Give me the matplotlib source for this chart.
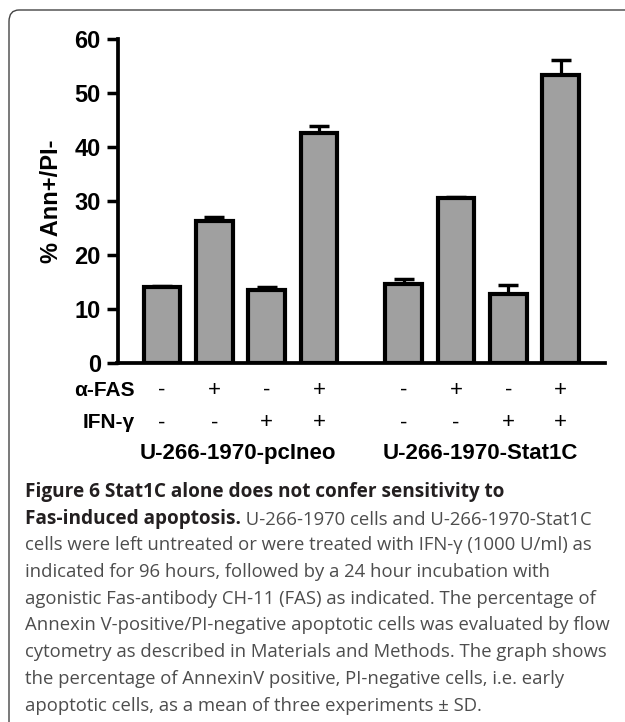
import matplotlib.pyplot as plt
import matplotlib.patches as mpatches
from matplotlib.text import Annotation
import numpy as np

# dados
grupos = ['U-266-1970-pcIneo', 'U-266-1970-Stat1C']
media_pcineo = [14.0, 26.3, 13.5, 42.6]
erro_pcineo = [0.2, 0.8, 0.5, 1.2]
media_stat1c = [14.7, 30.5, 12.7, 53.3]
erro_stat1c = [0.8, 0.3, 1.8, 2.8]
sinais_fas = ['-', '+', '-', '+']
sinais_ifn = ['-', '-', '+', '+']
ticks_y = [0, 10, 20, 30, 40, 50, 60]

titulo_legenda = ['Figure 6 Stat1C alone does not confer sensitivity to', 'Fas-induced apoptosis.']
texto_legenda = [' U-266-1970 cells and U-266-1970-Stat1C',
                 'cells were left untreated or were treated with IFN-\u03b3 (1000 U/ml) as',
                 'indicated for 96 hours, followed by a 24 hour incubation with',
                 'agonistic Fas-antibody CH-11 (FAS) as indicated. The percentage of',
                 'Annexin V-positive/PI-negative apoptotic cells was evaluated by flow',
                 'cytometry as described in Materials and Methods. The graph shows',
                 'the percentage of AnnexinV positive, PI-negative cells, i.e. early',
                 'apoptotic cells, as a mean of three experiments \u00b1 SD.']

fig = plt.figure(figsize=(6.25, 7.22), dpi=100)
W, H = 625, 722

# moldura com canto arredondado
moldura = mpatches.FancyBboxPatch((9 / W, -0.05), 1.2, 1.05 - 10 / H,
                                  boxstyle='round,pad=0,rounding_size=0.016',
                                  transform=fig.transFigure, fill=False,
                                  edgecolor='#444444', lw=1.0)
fig.patches.append(moldura)

ax = fig.add_axes([117.5 / W, (H - 363) / H, (605 - 117.5) / W, (363 - 39) / H])

pos1 = np.arange(4)
pos2 = np.arange(4) + 4.62
posicoes = np.concatenate([pos1, pos2])
medias = media_pcineo + media_stat1c
erros = erro_pcineo + erro_stat1c

ax.bar(posicoes, medias, width=0.7, color='#a0a0a0', edgecolor='black', linewidth=3, zorder=3)
ax.errorbar(posicoes, medias, yerr=[np.zeros(8), erros], fmt='none', ecolor='black',
            elinewidth=2.3, capsize=7, capthick=2.5, zorder=2)

ax.set_ylim(0, 60)
ax.set_xlim(-0.85, 8.47)
ax.set_yticks(ticks_y)
ax.set_xticks([])
ax.spines['top'].set_visible(False)
ax.spines['right'].set_visible(False)
ax.spines['left'].set_linewidth(2.7)
ax.spines['bottom'].set_linewidth(2.7)
ax.tick_params(axis='y', length=8, width=2.5, pad=4, labelsize=17)
for t in ax.get_yticklabels():
    t.set_fontfamily('Liberation Sans')
    t.set_fontweight('bold')
ax.set_ylabel('% Ann+/PI-', fontsize=17, fontweight='bold', family='Liberation Sans', labelpad=8)

# linhas de tratamento abaixo do eixo
trans = ax.get_xaxis_transform()
ax.text(-0.52, -0.085, '\u03b1-FAS', transform=trans, ha='right', va='center',
        fontsize=15, fontweight='bold', family='Liberation Sans')
ax.text(-0.52, -0.185, 'IFN-\u03b3', transform=trans, ha='right', va='center',
        fontsize=15, fontweight='bold', family='Liberation Sans')
for i, x in enumerate(posicoes):
    ax.text(x, -0.085, sinais_fas[i % 4], transform=trans, ha='center', va='center',
            fontsize=16, family='Liberation Sans')
    ax.text(x, -0.185, sinais_ifn[i % 4], transform=trans, ha='center', va='center',
            fontsize=16, family='Liberation Sans')
ax.text(pos1.mean() - 0.05, -0.28, grupos[0], transform=trans, ha='center', va='center',
        fontsize=16, fontweight='bold', family='Liberation Sans')
ax.text(pos2.mean() - 0.03, -0.28, grupos[1], transform=trans, ha='center', va='center',
        fontsize=16, fontweight='bold', family='Liberation Sans')

# legenda da figura
x0 = 25 / W
y0 = 1 - 492 / H
passo = 26.7 / H
fig.text(x0, y0, titulo_legenda[0], fontsize=13.7, fontweight='bold', family='Open Sans',
         color='#231f20', va='center')
t2 = fig.text(x0, y0 - passo, titulo_legenda[1], fontsize=13.7, fontweight='bold',
              family='Open Sans', color='#231f20', va='center')
fig.add_artist(Annotation(texto_legenda[0], xy=(1, 0), xycoords=t2, va='bottom',
                          ha='left', fontsize=13.3, family='Open Sans', color='#4d4d4d'))
for k, linha in enumerate(texto_legenda[1:]):
    fig.text(x0, y0 - passo * (k + 2), linha, fontsize=13.3, family='Open Sans',
             color='#4d4d4d', va='center')

plt.savefig('out.png', dpi=100)
